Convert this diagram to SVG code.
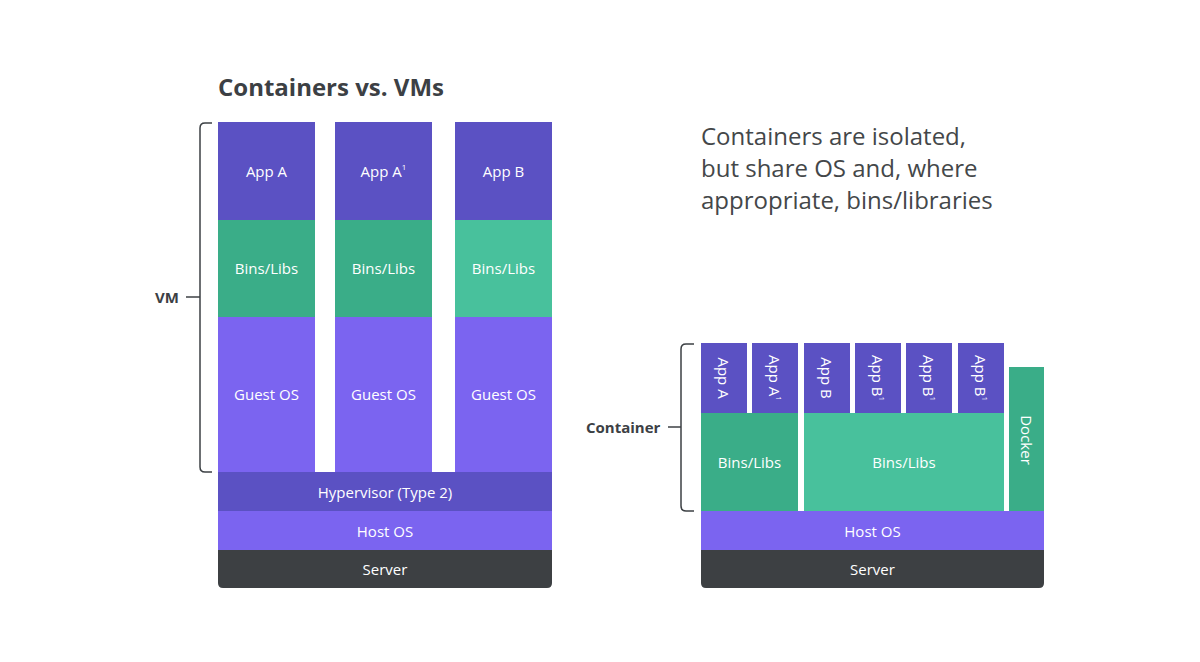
<svg xmlns="http://www.w3.org/2000/svg" width="1200" height="662" viewBox="0 0 1200 662">
<style>
.t{font-family:"Open Sans","Noto Sans",sans-serif;fill:#ffffff;font-size:15px;text-anchor:middle;dominant-baseline:central}
.lbl{font-family:"Open Sans","Noto Sans",sans-serif;fill:#3c4044;font-size:15px;font-weight:bold;dominant-baseline:central}
.app{fill:#5b51c3}
.dg{fill:#3aad88}
.lg{fill:#48c19c}
.os{fill:#7b64f0}
.hyp{fill:#5b51c3}
.srv{fill:#3d4043}
.br{fill:none;stroke:#3c4044;stroke-width:1.5}
</style>
<rect width="1200" height="662" fill="#ffffff"/>
<text x="218" y="86" style="font-family:'Open Sans','Noto Sans',sans-serif;font-size:24px;font-weight:bold;fill:#3c4044;dominant-baseline:central">Containers vs. VMs</text>
<g id="desc" style="font-family:'Open Sans','Noto Sans',sans-serif;font-size:24px;fill:#444749">
<text x="701" y="145">Containers are isolated,</text>
<text x="701" y="177">but share OS and, where</text>
<text x="701" y="209">appropriate, bins/libraries</text>
</g>
<g id="vm1">
<rect class="app" x="218" y="122" width="97" height="98"/><text class="t" x="266.5" y="171">App A</text>
<rect class="dg" x="218" y="220" width="97" height="97"/><text class="t" x="266.5" y="268">Bins/Libs</text>
<rect class="os" x="218" y="317" width="97" height="155"/><text class="t" x="266.5" y="394">Guest OS</text>
</g>
<g id="vm2">
<rect class="app" x="335" y="122" width="97" height="98"/><text class="t" x="383.5" y="171">App A<tspan dy="-5" font-size="8">1</tspan></text>
<rect class="dg" x="335" y="220" width="97" height="97"/><text class="t" x="383.5" y="268">Bins/Libs</text>
<rect class="os" x="335" y="317" width="97" height="155"/><text class="t" x="383.5" y="394">Guest OS</text>
</g>
<g id="vm3">
<rect class="app" x="455" y="122" width="97" height="98"/><text class="t" x="503.5" y="171">App B</text>
<rect class="lg" x="455" y="220" width="97" height="97"/><text class="t" x="503.5" y="268">Bins/Libs</text>
<rect class="os" x="455" y="317" width="97" height="155"/><text class="t" x="503.5" y="394">Guest OS</text>
</g>
<g id="hypervisor"><rect class="hyp" x="218" y="472" width="334" height="39"/><text class="t" x="385" y="491.5">Hypervisor (Type 2)</text></g>
<g id="hostos1"><rect class="os" x="218" y="511" width="334" height="39"/><text class="t" x="385" y="530.5">Host OS</text></g>
<g id="server1"><path class="srv" d="M218 550H552V583Q552 588 547 588H223Q218 588 218 583Z"/><text class="t" x="385" y="569">Server</text></g>
<g id="containers">
<rect class="app" x="701" y="343" width="46" height="70"/><text class="t" transform="translate(724 378) rotate(90)">App A</text>
<rect class="app" x="752" y="343" width="46" height="70"/><text class="t" transform="translate(775 378) rotate(90)">App A<tspan dy="-5" font-size="8">1</tspan></text>
<rect class="app" x="804" y="343" width="46" height="70"/><text class="t" transform="translate(827 378) rotate(90)">App B</text>
<rect class="app" x="855" y="343" width="46" height="70"/><text class="t" transform="translate(878 378) rotate(90)">App B<tspan dy="-5" font-size="8">1</tspan></text>
<rect class="app" x="906" y="343" width="46" height="70"/><text class="t" transform="translate(929 378) rotate(90)">App B<tspan dy="-5" font-size="8">1</tspan></text>
<rect class="app" x="958" y="343" width="46" height="70"/><text class="t" transform="translate(981 378) rotate(90)">App B<tspan dy="-5" font-size="8">1</tspan></text>
</g>
<g id="bins1"><rect class="dg" x="701" y="413" width="97" height="98"/><text class="t" x="749.5" y="462">Bins/Libs</text></g>
<g id="bins2"><rect class="lg" x="804" y="413" width="200" height="98"/><text class="t" x="904" y="462">Bins/Libs</text></g>
<g id="docker"><rect class="dg" x="1009" y="367" width="35" height="144"/><text class="t" transform="translate(1026.5 440) rotate(90)">Docker</text></g>
<g id="hostos2"><rect class="os" x="701" y="511" width="343" height="39"/><text class="t" x="872.5" y="530.5">Host OS</text></g>
<g id="server2"><path class="srv" d="M701 550H1044V583Q1044 588 1039 588H706Q701 588 701 583Z"/><text class="t" x="872.5" y="569">Server</text></g>
<g id="connectors">
<path class="br" d="M212 123H205Q200 123 200 128V467Q200 472 205 472H212"/>
<line class="br" x1="186" y1="297" x2="200" y2="297"/>
<path class="br" d="M694 344H686Q681 344 681 349V506Q681 511 686 511H694"/>
<line class="br" x1="668" y1="427" x2="681" y2="427"/>
</g>
<text class="lbl" x="155" y="297">VM</text>
<text class="lbl" x="586" y="427">Container</text>
</svg>
